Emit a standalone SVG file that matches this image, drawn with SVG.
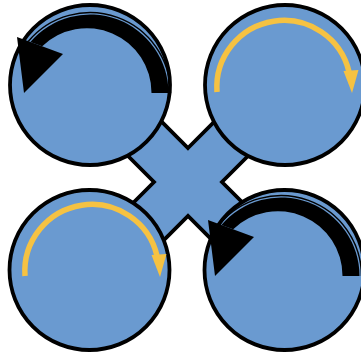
<svg xmlns="http://www.w3.org/2000/svg" xmlns:xlink="http://www.w3.org/1999/xlink" width="361" height="356" viewBox="0 0 361 356">
  <style>
    .shape { fill: #6A9AD0; stroke: #000; stroke-width: 3.8; }
    .thin { fill: none; stroke: #000; stroke-width: 1.5; }
    .yarc { fill: none; stroke: #F6C242; stroke-width: 5.5; }
    .yhead { fill: #F6C242; }
  </style>
  <defs>
    <g id="blackArrow">
      <path class="thin" d="M 170.5 93 A 80.5 80.5 0 0 0 28.2 41.5"/>
      <path fill="#000" d="M 168.5 93 A 78.5 78.5 0 0 0 30.4 41.9 L 42.2 46.3 A 64.5 64.5 0 0 1 151.5 93 Z"/>
      <polygon points="17,37 63,54 24,93" fill="#000"/>
    </g>
    <g id="yellowArrow">
      <path class="yarc" d="M 217 92 A 67 67 0 0 1 349 71.8"/>
      <polygon class="yhead" points="343.5,71 358.5,70 352,93"/>
    </g>
  </defs>
  <g id="connectors">
    <polygon class="shape" stroke-linejoin="miter" points="188,148 241.7,94.3 275.7,128.3 222,182 275.7,235.7 241.7,269.7 188,216 134.3,269.7 100.3,235.7 154,182 100.3,128.3 134.3,94.3"/>
  </g>
  <g id="node-top-left">
    <circle class="shape" cx="90" cy="85" r="80"/>
    <use xlink:href="#blackArrow"/>
  </g>
  <g id="node-top-right">
    <circle class="shape" cx="285" cy="85" r="80"/>
    <use xlink:href="#yellowArrow"/>
  </g>
  <g id="node-bottom-left">
    <circle class="shape" cx="89.5" cy="270" r="80"/>
    <use xlink:href="#yellowArrow" transform="translate(-192,184)"/>
  </g>
  <g id="node-bottom-right">
    <circle class="shape" cx="284.5" cy="270" r="80"/>
    <use xlink:href="#blackArrow" transform="translate(191,183)"/>
  </g>
</svg>
